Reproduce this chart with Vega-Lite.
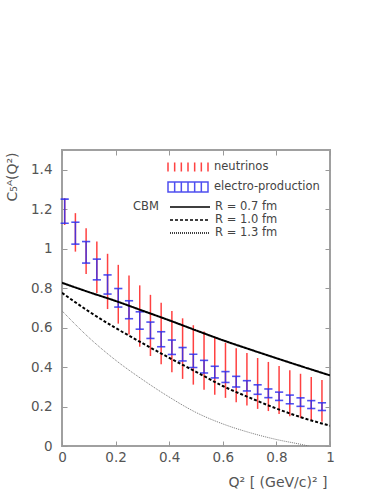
{
  "$schema": "https://vega.github.io/schema/vega-lite/v6.json",
  "width": 268,
  "height": 296,
  "autosize": {"type": "none"},
  "padding": {"left": 62, "top": 150, "right": 49, "bottom": 45},
  "background": "white",
  "config": {
    "view": {"stroke": "#a0a0a0", "strokeWidth": 2},
    "font": "DejaVu Sans",
    "axis": {
      "grid": false, "domain": false, "tickColor": "#999", "tickSize": -5, "tickWidth": 1, "labelFlush": false,
      "labelColor": "#555", "labelFont": "DejaVu Sans", "labelFontSize": 13.5,
      "titleColor": "#555", "titleFont": "DejaVu Sans", "titleFontSize": 14, "titleFontWeight": "normal"
    },
    "legend": {
      "labelFont": "DejaVu Sans", "labelFontSize": 11.5, "labelColor": "#444",
      "titleFont": "DejaVu Sans", "titleFontSize": 11.5, "titleColor": "#444", "titleFontWeight": "normal",
      "padding": 0
    }
  },
  "datasets": {
    "bars": [
      {"q2": 0.01, "set": "neutrinos", "lo": 1.120, "hi": 1.256},
      {"q2": 0.05, "set": "neutrinos", "lo": 0.985, "hi": 1.180},
      {"q2": 0.09, "set": "neutrinos", "lo": 0.872, "hi": 1.104},
      {"q2": 0.13, "set": "neutrinos", "lo": 0.775, "hi": 1.036},
      {"q2": 0.17, "set": "neutrinos", "lo": 0.694, "hi": 0.974},
      {"q2": 0.21, "set": "neutrinos", "lo": 0.620, "hi": 0.918},
      {"q2": 0.25, "set": "neutrinos", "lo": 0.565, "hi": 0.864},
      {"q2": 0.29, "set": "neutrinos", "lo": 0.503, "hi": 0.814},
      {"q2": 0.33, "set": "neutrinos", "lo": 0.456, "hi": 0.766},
      {"q2": 0.37, "set": "neutrinos", "lo": 0.414, "hi": 0.726},
      {"q2": 0.41, "set": "neutrinos", "lo": 0.374, "hi": 0.684},
      {"q2": 0.45, "set": "neutrinos", "lo": 0.340, "hi": 0.647},
      {"q2": 0.49, "set": "neutrinos", "lo": 0.311, "hi": 0.612},
      {"q2": 0.53, "set": "neutrinos", "lo": 0.285, "hi": 0.580},
      {"q2": 0.57, "set": "neutrinos", "lo": 0.260, "hi": 0.552},
      {"q2": 0.61, "set": "neutrinos", "lo": 0.244, "hi": 0.523},
      {"q2": 0.65, "set": "neutrinos", "lo": 0.222, "hi": 0.495},
      {"q2": 0.69, "set": "neutrinos", "lo": 0.205, "hi": 0.471},
      {"q2": 0.73, "set": "neutrinos", "lo": 0.188, "hi": 0.446},
      {"q2": 0.77, "set": "neutrinos", "lo": 0.177, "hi": 0.426},
      {"q2": 0.81, "set": "neutrinos", "lo": 0.162, "hi": 0.405},
      {"q2": 0.85, "set": "neutrinos", "lo": 0.151, "hi": 0.384},
      {"q2": 0.89, "set": "neutrinos", "lo": 0.142, "hi": 0.366},
      {"q2": 0.93, "set": "neutrinos", "lo": 0.132, "hi": 0.350},
      {"q2": 0.97, "set": "neutrinos", "lo": 0.123, "hi": 0.334},
      {"q2": 0.01, "set": "electro-production", "lo": 1.129, "hi": 1.251},
      {"q2": 0.05, "set": "electro-production", "lo": 1.023, "hi": 1.134},
      {"q2": 0.09, "set": "electro-production", "lo": 0.927, "hi": 1.036},
      {"q2": 0.13, "set": "electro-production", "lo": 0.842, "hi": 0.947},
      {"q2": 0.17, "set": "electro-production", "lo": 0.770, "hi": 0.867},
      {"q2": 0.21, "set": "electro-production", "lo": 0.704, "hi": 0.798},
      {"q2": 0.25, "set": "electro-production", "lo": 0.645, "hi": 0.736},
      {"q2": 0.29, "set": "electro-production", "lo": 0.592, "hi": 0.680},
      {"q2": 0.33, "set": "electro-production", "lo": 0.545, "hi": 0.628},
      {"q2": 0.37, "set": "electro-production", "lo": 0.503, "hi": 0.579},
      {"q2": 0.41, "set": "electro-production", "lo": 0.464, "hi": 0.537},
      {"q2": 0.45, "set": "electro-production", "lo": 0.431, "hi": 0.499},
      {"q2": 0.49, "set": "electro-production", "lo": 0.398, "hi": 0.465},
      {"q2": 0.53, "set": "electro-production", "lo": 0.370, "hi": 0.434},
      {"q2": 0.57, "set": "electro-production", "lo": 0.345, "hi": 0.404},
      {"q2": 0.61, "set": "electro-production", "lo": 0.322, "hi": 0.377},
      {"q2": 0.65, "set": "electro-production", "lo": 0.299, "hi": 0.353},
      {"q2": 0.69, "set": "electro-production", "lo": 0.279, "hi": 0.331},
      {"q2": 0.73, "set": "electro-production", "lo": 0.262, "hi": 0.310},
      {"q2": 0.77, "set": "electro-production", "lo": 0.245, "hi": 0.289},
      {"q2": 0.81, "set": "electro-production", "lo": 0.231, "hi": 0.273},
      {"q2": 0.85, "set": "electro-production", "lo": 0.214, "hi": 0.258},
      {"q2": 0.89, "set": "electro-production", "lo": 0.201, "hi": 0.244},
      {"q2": 0.93, "set": "electro-production", "lo": 0.190, "hi": 0.230},
      {"q2": 0.97, "set": "electro-production", "lo": 0.180, "hi": 0.219}
    ],
    "curves": [
      {"q2": 0.0, "model": "R = 0.7 fm", "c5": 0.827},
      {"q2": 0.1, "model": "R = 0.7 fm", "c5": 0.780},
      {"q2": 0.2, "model": "R = 0.7 fm", "c5": 0.735},
      {"q2": 0.3, "model": "R = 0.7 fm", "c5": 0.686},
      {"q2": 0.4, "model": "R = 0.7 fm", "c5": 0.637},
      {"q2": 0.5, "model": "R = 0.7 fm", "c5": 0.586},
      {"q2": 0.6, "model": "R = 0.7 fm", "c5": 0.536},
      {"q2": 0.7, "model": "R = 0.7 fm", "c5": 0.490},
      {"q2": 0.8, "model": "R = 0.7 fm", "c5": 0.445},
      {"q2": 0.9, "model": "R = 0.7 fm", "c5": 0.401},
      {"q2": 1.0, "model": "R = 0.7 fm", "c5": 0.358},
      {"q2": 0.0, "model": "R = 1.0 fm", "c5": 0.776},
      {"q2": 0.1, "model": "R = 1.0 fm", "c5": 0.682},
      {"q2": 0.2, "model": "R = 1.0 fm", "c5": 0.598},
      {"q2": 0.3, "model": "R = 1.0 fm", "c5": 0.521},
      {"q2": 0.4, "model": "R = 1.0 fm", "c5": 0.447},
      {"q2": 0.5, "model": "R = 1.0 fm", "c5": 0.376},
      {"q2": 0.6, "model": "R = 1.0 fm", "c5": 0.304},
      {"q2": 0.7, "model": "R = 1.0 fm", "c5": 0.245},
      {"q2": 0.8, "model": "R = 1.0 fm", "c5": 0.190},
      {"q2": 0.9, "model": "R = 1.0 fm", "c5": 0.142},
      {"q2": 1.0, "model": "R = 1.0 fm", "c5": 0.103},
      {"q2": 0.0, "model": "R = 1.3 fm", "c5": 0.685},
      {"q2": 0.1, "model": "R = 1.3 fm", "c5": 0.550},
      {"q2": 0.2, "model": "R = 1.3 fm", "c5": 0.435},
      {"q2": 0.3, "model": "R = 1.3 fm", "c5": 0.337},
      {"q2": 0.4, "model": "R = 1.3 fm", "c5": 0.248},
      {"q2": 0.5, "model": "R = 1.3 fm", "c5": 0.170},
      {"q2": 0.6, "model": "R = 1.3 fm", "c5": 0.112},
      {"q2": 0.7, "model": "R = 1.3 fm", "c5": 0.068},
      {"q2": 0.8, "model": "R = 1.3 fm", "c5": 0.033},
      {"q2": 0.9, "model": "R = 1.3 fm", "c5": 0.006},
      {"q2": 0.92, "model": "R = 1.3 fm", "c5": 0.0}
    ]
  },
  "layer": [
    {
      "data": {"name": "bars"},
      "mark": {"type": "rule", "strokeWidth": 1.5, "opacity": 0.85},
      "encoding": {
        "x": {"field": "q2", "type": "quantitative", "scale": {"domain": [0, 1], "nice": false},
              "axis": {"orient": "top", "labels": false, "title": null, "values": [0, 0.2, 0.4, 0.6, 0.8, 1]}},
        "y": {"field": "lo", "type": "quantitative", "scale": {"domain": [0, 1.5], "nice": false},
              "axis": {"orient": "right", "labels": false, "title": null, "values": [0, 0.2, 0.4, 0.6, 0.8, 1, 1.2, 1.4]}},
        "y2": {"field": "hi"},
        "color": {
          "field": "set", "type": "nominal",
          "scale": {"domain": ["neutrinos", "electro-production"], "range": ["#ff2020", "#3030ee"]},
          "legend": {
            "orient": "none", "legendX": 120, "legendY": 11, "title": null, "values": ["neutrinos"],
            "symbolType": "M-4,-0.9V0.9M-2.667,-0.9V0.9M-1.333,-0.9V0.9M0,-0.9V0.9M1.333,-0.9V0.9M2.667,-0.9V0.9M4,-0.9V0.9",
            "symbolSize": 100, "labelOffset": 20,
            "encode": {"symbols": {"stroke": {"value": "#ff8080"}, "strokeWidth": {"value": 1}, "opacity": {"value": 1}}}
          }
        }
      }
    },
    {
      "data": {"name": "bars"},
      "transform": [
        {"filter": "datum.set === 'electro-production'"},
        {"fold": ["lo", "hi"], "as": ["end", "val"]}
      ],
      "mark": {"type": "tick", "orient": "horizontal", "size": 7, "thickness": 0.4, "filled": false, "strokeWidth": 1.2, "opacity": 0.85},
      "encoding": {
        "x": {"field": "q2", "type": "quantitative", "axis": null},
        "y": {"field": "val", "type": "quantitative", "axis": null},
        "color": {
          "field": "set", "type": "nominal",
          "scale": {"domain": ["electro-production"], "range": ["#3030ee"]},
          "legend": {
            "orient": "none", "legendX": 120, "legendY": 31, "title": null,
            "symbolType": "M-4,-1H4V1H-4ZM-2.667,-1V1M-1.333,-1V1M0,-1V1M1.333,-1V1M2.667,-1V1",
            "symbolSize": 100, "labelOffset": 20,
            "encode": {"symbols": {"stroke": {"value": "#7070ff"}, "strokeWidth": {"value": 1}, "opacity": {"value": 1}}}
          }
        }
      }
    },
    {
      "data": {"name": "curves"},
      "mark": {"type": "line", "clip": true, "interpolate": "monotone"},
      "encoding": {
        "x": {"field": "q2", "type": "quantitative",
              "axis": {"orient": "bottom", "values": [0, 0.2, 0.4, 0.6, 0.8, 1], "format": "~g",
                       "title": "Q² [ (GeV/c)² ]", "labelPadding": 9,
                       "titleX": 265, "titleY": 36, "titleAlign": "right", "titleBaseline": "middle"}},
        "y": {"field": "c5", "type": "quantitative",
              "axis": {"orient": "left", "values": [0, 0.2, 0.4, 0.6, 0.8, 1, 1.2, 1.4], "format": "~g",
                       "title": "C₅ᴬ(Q²)", "labelPadding": 15,
                       "titleX": -50, "titleY": 2, "titleAngle": -90, "titleAlign": "right", "titleBaseline": "middle"}},
        "strokeDash": {
          "field": "model", "type": "nominal",
          "scale": {"domain": ["R = 0.7 fm", "R = 1.0 fm", "R = 1.3 fm"], "range": [[1, 0], [3, 2], [1, 1]]},
          "legend": {
            "orient": "none", "legendX": 71, "legendY": 51, "title": "CBM",
            "titleOrient": "left", "titlePadding": 25, "titleAnchor": "start", "titleBaseline": "top",
            "symbolType": "M-4,0H4", "symbolSize": 100, "labelOffset": 19, "rowPadding": 1,
            "encode": {
              "symbols": {
                "stroke": {
                  "condition": {"test": "datum.value === 'R = 1.3 fm'", "value": "#777"},
                  "value": "black"
                },
                "strokeWidth": {
                  "condition": {"test": "datum.value === 'R = 1.3 fm'", "value": 1},
                  "value": 2
                },
                "opacity": {"value": 1}
              }
            }
          }
        },
        "color": {"condition": {"test": "datum.model === 'R = 1.3 fm'", "value": "#777"}, "value": "black"},
        "strokeWidth": {"condition": {"test": "datum.model === 'R = 1.3 fm'", "value": 1}, "value": 2}
      }
    }
  ],
  "resolve": {"axis": {"x": "independent", "y": "independent"}, "scale": {"color": "independent"}}
}
